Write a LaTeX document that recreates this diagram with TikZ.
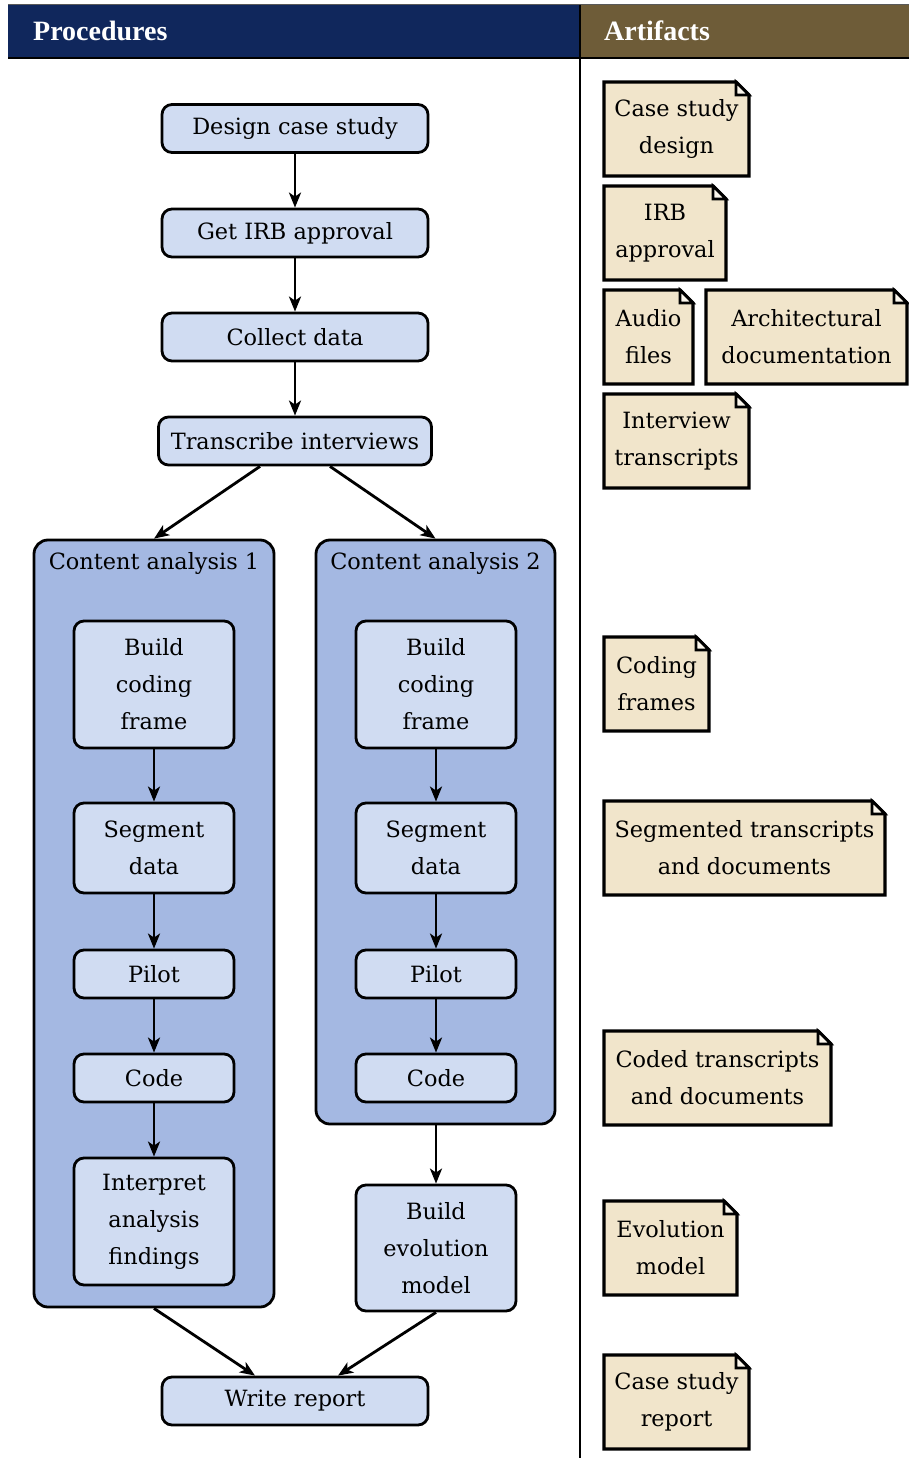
\documentclass[tikz,border=0pt]{standalone}
\usepackage{fontspec}
\setmainfont{DejaVu Serif}
\newfontfamily\headfont{Liberation Serif}
\usetikzlibrary{arrows.meta}
\definecolor{navy}{HTML}{10275C}
\definecolor{brownhead}{HTML}{6E5C38}
\definecolor{procfill}{HTML}{D0DCF2}
\definecolor{contfill}{HTML}{A4B8E2}
\definecolor{notefill}{HTML}{F1E5CB}
\definecolor{foldfill}{HTML}{FBF6EC}
\tikzset{
  proc/.style={draw, line width=2.8pt, fill=procfill, rounded corners=10pt, align=center, inner sep=0pt},
  container/.style={draw, line width=2.8pt, fill=contfill, rounded corners=14pt, inner sep=0pt},
  arr/.style={line width=2.8pt, -{Stealth[length=15pt,width=12pt,inset=4pt]}},
  notebox/.style={draw, line width=3.2pt, fill=notefill, line join=miter},
  notefold/.style={draw, line width=2.6pt, fill=foldfill, line join=miter},
  notetext/.style={align=center, inner sep=0pt},
  headtext/.style={text=white, font=\headfont\bfseries\fontsize{28}{30}\selectfont, anchor=west, inner sep=0pt},
}
\newcommand\artifact[6]{%
  \draw[notebox] (#2,#3) -- (#4-13,#3) -- (#4,#3+13) -- (#4,#5) -- (#2,#5) -- cycle;
  \draw[notefold] (#4-13,#3) -- (#4-13,#3+13) -- (#4,#3+13) -- cycle;
  \node[notetext] (#1) at ({(#2+#4)/2},{(#3+#5)/2}) {#6};
}
\begin{document}
\begin{tikzpicture}[x=1pt,y=-1pt,font=\fontsize{22.4}{37}\selectfont]
\useasboundingbox (0,0) rectangle (909,1458);
% header
\fill[navy] (8,5) rectangle (580,58);
\fill[brownhead] (580,5) rectangle (909,58);
\draw[gray!70!black, line width=1pt] (8,5) -- (909,5);
\draw[line width=2pt] (8,58) -- (909,58);
\draw[line width=2.2pt] (580,5) -- (580,1458);
\node[headtext] (hproc) at (33,31) {Procedures};
\node[headtext] (hart) at (604,31) {Artifacts};

% main procedures
\node[proc, minimum width=266, minimum height=48] (design) at (295,128.5) {Design case study};
\node[proc, minimum width=266, minimum height=48] (irb) at (295,233) {Get IRB approval};
\node[proc, minimum width=266, minimum height=48] (collect) at (295,337) {Collect data};
\node[proc, minimum width=273, minimum height=48] (trans) at (295,441) {Transcribe interviews};

% containers
\node[container, minimum width=240, minimum height=767] (ca1) at (154,923.5) {};
\node[container, minimum width=239, minimum height=584] (ca2) at (435.5,832) {};
\node[inner sep=0pt] (ca1t) at (154,563) {Content analysis 1};
\node[inner sep=0pt] (ca2t) at (435.5,563) {Content analysis 2};

% column 1
\node[proc, minimum width=160, minimum height=127] (bcf1) at (154,684.5) {Build\\coding\\frame};
\node[proc, minimum width=160, minimum height=90] (seg1) at (154,848) {Segment\\data};
\node[proc, minimum width=160, minimum height=48] (pil1) at (154,974) {Pilot};
\node[proc, minimum width=160, minimum height=48] (code1) at (154,1078) {Code};
\node[proc, minimum width=160, minimum height=127] (interp) at (154,1221.5) {Interpret\\analysis\\findings};
% column 2
\node[proc, minimum width=160, minimum height=127] (bcf2) at (436,684.5) {Build\\coding\\frame};
\node[proc, minimum width=160, minimum height=90] (seg2) at (436,848) {Segment\\data};
\node[proc, minimum width=160, minimum height=48] (pil2) at (436,974) {Pilot};
\node[proc, minimum width=160, minimum height=48] (code2) at (436,1078) {Code};
\node[proc, minimum width=160, minimum height=126] (evol) at (436,1248) {Build\\evolution\\model};

\node[proc, minimum width=266, minimum height=48] (write) at (295,1401) {Write report};

% arrows
\draw[arr] (design) -- (irb);
\draw[arr] (irb) -- (collect);
\draw[arr] (collect) -- (trans);
\draw[arr] ([xshift=-35pt]trans.south) -- (ca1.north);
\draw[arr] ([xshift=35pt]trans.south) -- (ca2.north);
\draw[arr] (bcf1) -- (seg1);
\draw[arr] (seg1) -- (pil1);
\draw[arr] (pil1) -- (code1);
\draw[arr] (code1) -- (interp);
\draw[arr] (bcf2) -- (seg2);
\draw[arr] (seg2) -- (pil2);
\draw[arr] (pil2) -- (code2);
\draw[arr] (ca2.south -| evol.north) -- (evol.north);
\draw[arr] (ca1.south) -- ([xshift=-40pt]write.north);
\draw[arr] (evol.south) -- ([xshift=43pt]write.north);

% artifacts
\artifact{a1}{604}{82}{749}{176}{Case study\\design}
\artifact{a2}{604}{186}{726}{280}{IRB\\approval}
\artifact{a3}{604}{290}{693}{384}{Audio\\files}
\artifact{a4}{706}{290}{907}{384}{Architectural\\documentation}
\artifact{a5}{604}{394}{749}{488}{Interview\\transcripts}
\artifact{a6}{604}{637}{709}{731}{Coding\\frames}
\artifact{a7}{604}{801}{885}{895}{Segmented transcripts\\and documents}
\artifact{a8}{604}{1031}{831}{1125}{Coded transcripts\\and documents}
\artifact{a9}{604}{1201}{737}{1295}{Evolution\\model}
\artifact{a10}{604}{1355}{749}{1449}{Case study\\report}
\end{tikzpicture}
\end{document}
